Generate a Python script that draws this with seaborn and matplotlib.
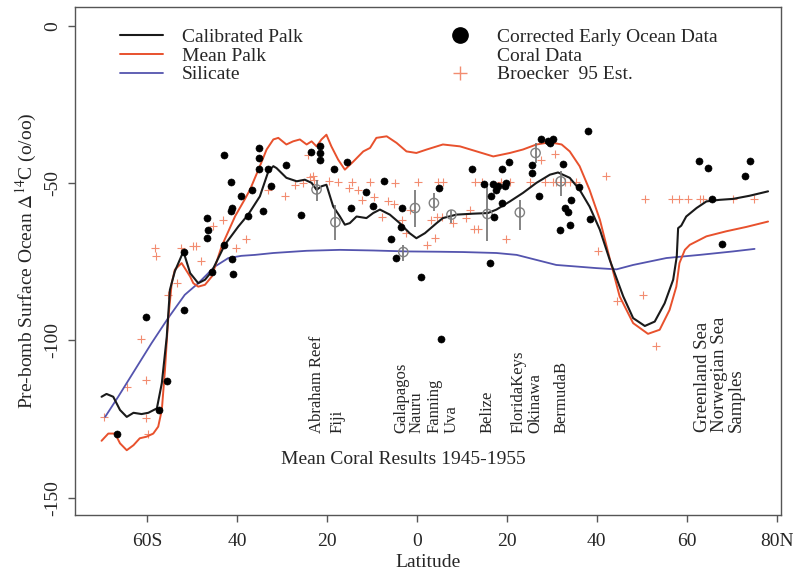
import pandas as pd
import seaborn as sns
import matplotlib.pyplot as plt
from matplotlib.lines import Line2D

sns.set_theme(style="white")
plt.rcParams['font.family'] = ['Liberation Serif', 'DejaVu Serif']
plt.rcParams['mathtext.fontset'] = 'stix'
plt.rcParams['axes.unicode_minus'] = False

# curves (latitude, S negative)
calib_lat = [-70.1, -69.0, -67.5, -66.0, -64.5, -63.0, -61.2, -59.7, -57.8, -56.7, -55.6, -54.9, -53.8, -51.9,
             -50.4, -48.6, -47.1, -45.6, -42.7, -39.7, -37.5, -34.9, -33.0, -31.9, -31.2, -29.0, -26.7, -24.9,
             -23.4, -22.3, -21.2, -20.1, -18.6, -17.1, -16.0, -14.9, -13.4, -11.2, -9.7, -8.2, -6.0, -3.8, -1.6,
             -0.1, 1.8, 4.4, 5.8, 8.8, 12.5, 15.8, 17.7, 20.7, 23.6, 26.6, 29.6, 31.4, 34.0, 36.2, 38.4, 40.7,
             42.9, 45.9, 48.1, 50.7, 52.9, 55.1, 57.0, 57.8, 58.1, 58.8, 59.9, 62.2, 64.4, 67.3, 70.3, 74.0, 78.1]
calib_val = [-117.9, -117.0, -117.9, -122.1, -124.3, -123.0, -123.4, -123.0, -121.6, -113.6, -98.8, -83.9, -78.0,
             -71.7, -78.6, -81.8, -80.7, -78.1, -69.6, -63.8, -60.0, -54.2, -46.2, -44.6, -45.2, -48.3, -49.4,
             -48.9, -49.9, -52.1, -51.0, -50.5, -57.4, -60.6, -63.2, -62.7, -60.6, -61.1, -59.5, -58.4, -60.0,
             -62.7, -65.9, -67.5, -65.9, -62.7, -61.1, -60.0, -59.7, -59.5, -58.4, -55.8, -53.1, -49.9, -47.3,
             -46.6, -48.3, -52.1, -57.4, -64.8, -74.4, -86.0, -92.9, -95.4, -94.0, -88.2, -80.7, -73.3, -64.3,
             -63.5, -60.6, -57.9, -55.8, -55.3, -55.0, -54.0, -52.6]

mean_lat = [-70.1, -68.6, -67.1, -66.0, -64.5, -63.0, -61.6, -60.1, -58.6, -57.5, -56.7, -56.0, -55.3, -54.5, -53.8,
            -52.3, -50.4, -49.7, -48.6, -47.1, -45.6, -43.4, -40.4, -38.2, -37.1, -34.9, -33.4, -31.9, -30.8, -29.0,
            -27.5, -26.0, -24.5, -23.4, -22.3, -21.2, -20.1, -19.0, -17.5, -16.0, -14.1, -11.9, -10.4, -9.0, -6.7,
            -4.5, -2.3, -0.1, 2.2, 5.8, 9.6, 13.3, 17.0, 20.7, 23.6, 26.6, 29.6, 32.2, 34.0, 36.2, 38.4, 40.7,
            42.9, 45.1, 48.1, 51.4, 54.0, 56.2, 57.7, 58.4, 59.6, 60.7, 64.4, 68.8, 73.3, 78.1]
mean_val = [-131.9, -129.6, -129.6, -132.7, -134.9, -133.3, -131.1, -130.6, -129.6, -127.4, -122.1, -109.4, -93.5,
            -81.8, -77.5, -75.4, -79.7, -81.8, -82.9, -82.3, -79.7, -70.1, -60.5, -55.0, -52.1, -44.6, -39.3,
            -36.1, -35.6, -37.7, -36.7, -36.1, -37.7, -36.7, -38.3, -36.1, -34.6, -38.3, -42.5, -45.7, -43.1,
            -39.9, -38.8, -35.6, -35.1, -37.2, -39.9, -40.4, -39.3, -37.7, -38.3, -39.9, -41.5, -40.4, -39.3,
            -37.7, -37.0, -37.7, -39.9, -44.6, -52.1, -61.6, -74.0, -86.0, -94.5, -97.9, -96.6, -90.3, -82.9,
            -75.4, -71.2, -69.6, -66.9, -65.3, -63.9, -62.2]

sil_lat = [-69.3, -66.4, -62.7, -59.0, -55.3, -51.6, -48.6, -44.9, -41.9, -39.0, -36.0, -31.9, -24.5, -17.1, -9.7,
           -2.3, 5.1, 10.3, 17.7, 22.2, 26.6, 31.0, 35.5, 39.9, 44.4, 48.1, 55.5, 62.9, 70.3, 75.1]
sil_val = [-124.3, -117.9, -109.4, -100.9, -92.9, -85.5, -81.8, -76.5, -73.8, -73.1, -72.8, -72.2, -71.5, -71.2,
           -71.4, -71.7, -71.8, -71.9, -72.2, -72.8, -74.4, -76.0, -76.5, -77.0, -77.4, -76.0, -73.8, -72.8,
           -71.7, -70.9]

# corrected early ocean data (black dots)
ocean_lat = [-60.2, -51.7, -55.6, -57.3, -66.7, -45.6, -40.8, -42.9, -41.3, -39.2, -36.7, -41.2, -41.3, -37.6,
             -46.7, -46.4, -46.7, -42.9, -51.8, -41.2, -35.0, -35.0, -35.0, -33.0, -29.0, -32.4, -34.3, -23.5,
             -21.5, -21.5, -21.5, -25.7, -18.4, -15.5, -7.3, -11.2, -14.7, -9.7, -3.2, -3.6, -5.8, -4.7, 0.9,
             4.9, 5.3, 12.3, 15.0, 16.6, 17.0, 17.7, 18.1, 19.8, 19.6, 19.0, 19.0, 20.4, 17.2, 16.2, 25.5, 25.7,
             27.1, 27.6, 29.2, 29.7, 30.2, 32.5, 38.1, 34.2, 32.9, 33.6, 34.0, 31.8, 36.1, 38.4, 62.7, 64.8,
             65.7, 67.9, 74.0, 73.0]
ocean_val = [-92.7, -90.3, -112.8, -122.1, -129.6, -78.1, -79.0, -41.0, -49.7, -54.0, -52.3, -57.9, -59.0, -60.3,
             -61.1, -64.8, -67.5, -69.6, -71.8, -74.0, -38.8, -42.0, -45.5, -45.5, -44.1, -51.0, -58.7, -40.1,
             -38.3, -40.4, -42.5, -60.0, -45.4, -43.4, -49.4, -52.9, -57.9, -57.2, -57.9, -63.9, -67.8, -73.8,
             -79.7, -51.5, -99.5, -45.5, -50.3, -54.2, -50.3, -52.1, -50.8, -49.9, -50.8, -56.3, -45.5, -43.2,
             -60.6, -75.4, -44.1, -46.8, -54.2, -35.8, -36.5, -37.2, -36.0, -43.9, -33.3, -55.3, -57.9, -59.3,
             -63.4, -64.8, -51.3, -61.3, -42.8, -45.2, -55.0, -69.3, -42.9, -47.8]

# mean coral results with ranges
coral_lat = [-22.3, -18.1, -3.0, -0.4, 3.8, 7.7, 15.7, 22.9, 26.4, 32.0]
coral_val = [-52.0, -62.4, -71.9, -57.9, -56.3, -60.0, -59.8, -59.3, -40.4, -49.4]
coral_lo = [-55.6, -68.0, -74.9, -63.8, -59.0, -62.7, -68.5, -64.8, -43.6, -54.2]
coral_hi = [-48.9, -56.8, -69.6, -52.1, -53.1, -58.4, -50.5, -55.3, -37.2, -46.2]
coral_names = ["Abraham Reef", "Fiji", "Galapagos", "Nauru", "Fanning", "Uva", "Belize",
               "FloridaKeys", "Okinawa", "BermudaB"]
coral_name_lat = [-22.3, -17.6, -3.4, -0.1, 4.0, 7.7, 15.8, 22.7, 26.4, 32.2]

# Broecker 95 estimates
broecker_lat = [-55.4, -61.4, -60.2, -64.4, -69.5, -60.2, -59.7, -53.4, -58.2, -58.0, -52.4, -49.7, -49.0, -47.9,
                -45.4, -43.2, -40.1, -38.0, -33.0, -29.3, -27.1, -23.8, -23.0, -24.2, -17.5, -15.0, -25.3, -22.9,
                -19.5, -14.5, -13.0, -12.3, -10.4, -9.5, -7.8, -6.4, -5.1, -4.8, -3.3, -2.3, -1.6, 0.2, 3.1, 2.2,
                4.0, 4.7, 5.8, 4.4, 5.5, 8.1, 10.9, 11.9, 12.7, 13.6, 12.9, 14.4, 18.7, 20.7, 19.8, 25.1, 28.4,
                30.3, 31.0, 32.9, 34.0, 35.3, 27.7, 30.7, 42.0, 40.3, 50.8, 56.8, 58.4, 60.3, 62.9, 63.6, 70.3,
                74.9, 44.5, 50.4, 53.2]
broecker_val = [-85.5, -99.6, -112.6, -114.9, -124.3, -124.8, -129.6, -81.6, -70.6, -73.3, -70.6, -69.9, -69.9,
                -74.9, -63.5, -61.6, -70.6, -67.6, -52.1, -54.0, -50.6, -48.0, -47.8, -40.9, -49.7, -51.5, -49.9,
                -48.9, -49.4, -49.7, -52.3, -55.3, -49.7, -54.3, -60.7, -55.8, -56.6, -49.8, -61.6, -65.9, -58.4,
                -49.6, -61.6, -69.8, -67.5, -49.7, -49.7, -60.6, -60.8, -62.7, -61.0, -58.4, -64.6, -64.6, -49.6,
                -49.6, -49.6, -49.6, -67.6, -49.6, -49.6, -49.6, -49.6, -49.6, -49.6, -49.6, -42.5, -40.6, -47.7,
                -71.7, -55.0, -55.0, -55.0, -55.0, -55.0, -55.0, -55.0, -55.0, -87.6, -85.7, -101.8]

x_ticks = [-60, -40, -20, 0, 20, 40, 60, 80]
x_labels = ["60S", "40", "20", "0", "20", "40", "60", "80N"]
y_ticks = [0, -50, -100, -150]
north_names = ["Greenland Sea", "Norwegian Sea", "Samples"]
north_name_lat = [63.6, 67.3, 71.0]

black = "#1a1a1a"
orange = "#e8512d"
blue = "#5454ae"
plus_col = "#f28c70"

fig = plt.figure(figsize=(7.93, 5.75), dpi=100)
ax = fig.add_axes([0.0946, 0.1043, 0.8904, 0.8835])

sns.scatterplot(x=broecker_lat, y=broecker_val, marker="+", s=40, color=plus_col, linewidth=0.8, ax=ax, zorder=2)
sns.lineplot(x=sil_lat, y=sil_val, sort=False, estimator=None, color=blue, lw=1.3, ax=ax, zorder=3)
sns.lineplot(x=mean_lat, y=mean_val, sort=False, estimator=None, color=orange, lw=1.4, ax=ax, zorder=3)
sns.lineplot(x=calib_lat, y=calib_val, sort=False, estimator=None, color=black, lw=1.5, ax=ax, zorder=4)
ax.vlines(coral_lat, coral_lo, coral_hi, color="#707070", lw=1.2, zorder=5)
sns.scatterplot(x=coral_lat, y=coral_val, marker="o", s=45, facecolor="none", edgecolor="#808080",
                linewidth=1.0, ax=ax, zorder=6)
sns.scatterplot(x=ocean_lat, y=ocean_val, marker="o", s=26, color="black", edgecolor="black", ax=ax, zorder=7)

for name, lat in zip(coral_names, coral_name_lat):
    ax.text(lat, -129.5, name, rotation=90, ha="center", va="bottom", fontsize=12)
for name, lat in zip(north_names, north_name_lat):
    ax.text(lat, -129.0, name, rotation=90, ha="center", va="bottom", fontsize=13.5, linespacing=0.9)
ax.text(-2.9, -138.0, "Mean Coral Results 1945-1955", ha="center", va="center", fontsize=14)

ax.set_xlim(-76, 81)
ax.set_ylim(-155.5, 6)
ax.set_xticks(x_ticks)
ax.set_xticklabels(x_labels)
ax.set_yticks(y_ticks)
ax.tick_params(axis="x", direction="out", length=5, width=1, color="#555555", labelsize=14, pad=8, bottom=True)
ax.tick_params(axis="y", direction="out", length=5, width=1, color="#555555", labelsize=14, pad=5, left=True)
plt.setp(ax.get_yticklabels(), rotation=90, va="center")
for s in ax.spines.values():
    s.set_color("#555555")
    s.set_linewidth(1)
ax.set_xlabel("Latitude", fontsize=14, labelpad=3)
ax.set_ylabel(r"Pre-bomb Surface Ocean $\Delta^{14}$C (o/oo)", fontsize=14, labelpad=4)

left_handles = [Line2D([], [], color=black, lw=1.5), Line2D([], [], color=orange, lw=1.4),
                Line2D([], [], color=blue, lw=1.3)]
leg1 = ax.legend(left_handles, ["Calibrated Palk", "Mean Palk", "Silicate"], loc="upper left",
                 bbox_to_anchor=(0.151, 0.951), bbox_transform=fig.transFigure, frameon=False, fontsize=14,
                 labelspacing=0.06, handlelength=2.2, handletextpad=1.0, borderpad=0, borderaxespad=0)
ax.add_artist(leg1)
right_handles = [Line2D([], [], ls="none", marker="o", color="black", markersize=11),
                 Line2D([], [], ls="none"),
                 Line2D([], [], ls="none", marker="+", color=plus_col, markersize=10, mew=1)]
ax.legend(right_handles, ["Corrected Early Ocean Data", "Coral Data", "Broecker  95 Est."], loc="upper left",
          bbox_to_anchor=(0.555, 0.951), bbox_transform=fig.transFigure, frameon=False, fontsize=14,
          labelspacing=0.06, handlelength=2.0, handletextpad=0.9, borderpad=0, borderaxespad=0)

fig.savefig("out.png", dpi=100)
